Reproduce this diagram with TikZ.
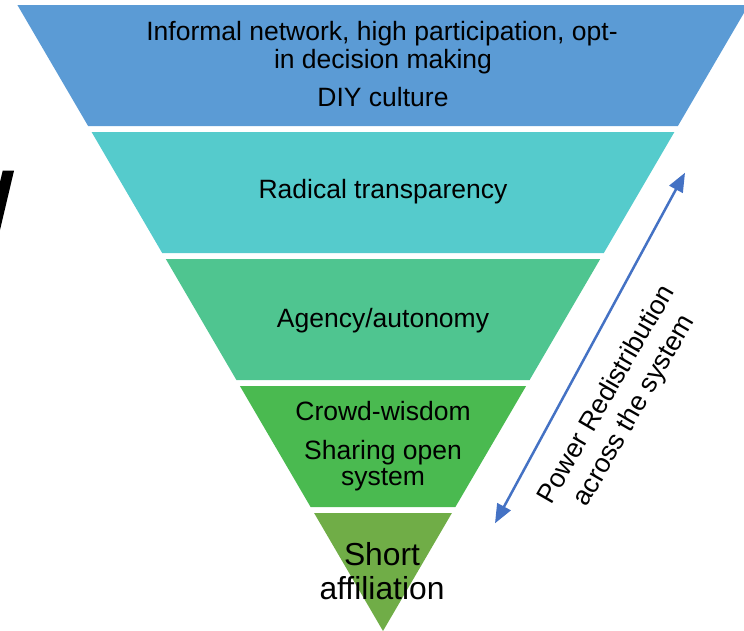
\documentclass[tikz,border=0pt]{standalone}
\usepackage{fontspec}
\setmainfont{Liberation Sans}
\usetikzlibrary{arrows.meta}
\definecolor{bandA}{HTML}{5B9BD5}
\definecolor{bandB}{HTML}{55CBCC}
\definecolor{bandC}{HTML}{4FC590}
\definecolor{bandD}{HTML}{4ABA50}
\definecolor{bandE}{HTML}{70AD47}
\definecolor{arrowblue}{HTML}{4472C4}
\tikzset{
  bandtext/.style={anchor=base, inner sep=0pt, font=\fontsize{26.5}{28}\selectfont, text=black},
  bigtext/.style={anchor=base, inner sep=0pt, font=\fontsize{31.8}{33}\selectfont, text=black},
  sidetext/.style={align=center, inner sep=0pt, rotate=60, font=\fontsize{26.8}{32}\selectfont, text=black},
  powerarrow/.style={draw=arrowblue, line width=2.5pt, {Triangle[length=19pt,width=15pt]}-{Triangle[length=19pt,width=15pt]}}
}
\begin{document}
\begin{tikzpicture}[x=1pt,y=-1pt]
\useasboundingbox (0,0) rectangle (744,630);
\clip (0,0) rectangle (744,630);
% bands
\fill[bandA] (17.4,5) -- (748.6,5) -- (677.9,126) -- (88.1,126) -- cycle;
\fill[bandB] (91.6,132) -- (674.4,132) -- (603.8,253) -- (162.2,253) -- cycle;
\fill[bandC] (165.8,259) -- (600.2,259) -- (529.6,380) -- (236.4,380) -- cycle;
\fill[bandD] (239.9,386) -- (526.1,386) -- (455.4,507) -- (310.6,507) -- cycle;
\fill[bandE] (314.1,513) -- (451.9,513) -- (383,631) -- cycle;
% black stroke at left edge
\fill[black] (0,182) -- (2.7,170.7) -- (14,170.7) -- (0,230) -- cycle;
% texts
\node[bandtext] (a1) at (382,40.7) {Informal network, high participation, opt-};
\node[bandtext] (a2) at (383,68.3) {in decision making};
\node[bandtext] (a3) at (383,106.3) {DIY culture};
\node[bandtext] (b1) at (383,198.3) {Radical transparency};
\node[bandtext] (c1) at (383,327.3) {Agency/autonomy};
\node[bandtext] (d1) at (383,420.7) {Crowd-wisdom};
\node[bandtext] (d2) at (383,459.3) {Sharing open};
\node[bandtext] (d3) at (383,485) {system};
\node[bigtext] (e1) at (382,565.7) {Short};
\node[bigtext] (e2) at (382,599) {affiliation};
% arrow
\coordinate (arrlow) at (495,523.3);
\coordinate (arrhigh) at (685,172.7);
\draw[powerarrow] (arrlow) -- (arrhigh);
\node[sidetext] (side) at (621,403) {Power Redistribution\\across the system};
\end{tikzpicture}
\end{document}
